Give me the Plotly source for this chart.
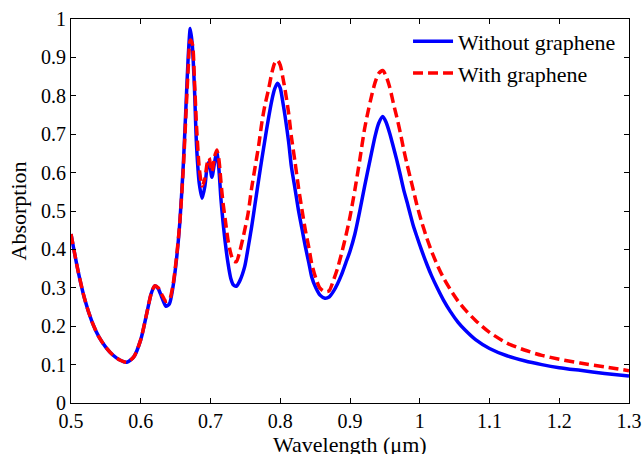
import plotly.graph_objects as go

wavelength = [0.500, 0.510, 0.520, 0.530, 0.540, 0.550, 0.560, 0.570, 0.580, 0.590,
              0.600, 0.610, 0.615, 0.620, 0.625, 0.630, 0.636, 0.641, 0.646, 0.651,
              0.656, 0.661, 0.665, 0.668, 0.671, 0.674, 0.677, 0.680, 0.684, 0.688,
              0.692, 0.695, 0.698, 0.702, 0.706, 0.709, 0.712, 0.715, 0.718, 0.721,
              0.725, 0.729, 0.733, 0.737, 0.742, 0.749, 0.754, 0.759, 0.764, 0.769,
              0.774, 0.778, 0.783, 0.788, 0.792, 0.796, 0.800, 0.804, 0.807, 0.812,
              0.816, 0.821, 0.826, 0.831, 0.836, 0.841, 0.845, 0.851, 0.857, 0.864,
              0.870, 0.876, 0.882, 0.888, 0.894, 0.900, 0.907, 0.914, 0.921, 0.929,
              0.936, 0.941, 0.947, 0.952, 0.957, 0.962, 0.967, 0.972, 0.977, 0.982,
              0.986, 0.991, 0.996, 1.003, 1.010, 1.017, 1.025, 1.034, 1.044, 1.055,
              1.065, 1.080, 1.100, 1.125, 1.150, 1.175, 1.200, 1.230, 1.265, 1.300]

without_graphene = [0.440, 0.345, 0.268, 0.212, 0.172, 0.145, 0.125, 0.112, 0.106, 0.120,
                    0.165, 0.245, 0.285, 0.305, 0.298, 0.276, 0.252, 0.258, 0.300, 0.370,
                    0.470, 0.620, 0.780, 0.900, 0.975, 0.930, 0.820, 0.670, 0.570, 0.533,
                    0.565, 0.612, 0.628, 0.588, 0.628, 0.654, 0.610, 0.530, 0.470, 0.420,
                    0.365, 0.325, 0.307, 0.304, 0.318, 0.355, 0.405, 0.459, 0.520, 0.581,
                    0.640, 0.685, 0.740, 0.789, 0.818, 0.833, 0.820, 0.780, 0.746, 0.680,
                    0.615, 0.560, 0.503, 0.455, 0.407, 0.365, 0.329, 0.300, 0.281, 0.273,
                    0.276, 0.290, 0.310, 0.335, 0.365, 0.395, 0.440, 0.500, 0.565, 0.635,
                    0.695, 0.728, 0.746, 0.730, 0.702, 0.668, 0.633, 0.595, 0.555, 0.522,
                    0.494, 0.460, 0.433, 0.396, 0.362, 0.331, 0.300, 0.268, 0.238, 0.210,
                    0.190, 0.165, 0.142, 0.123, 0.110, 0.100, 0.092, 0.085, 0.077, 0.070]

with_graphene = [0.440, 0.345, 0.268, 0.212, 0.172, 0.145, 0.125, 0.112, 0.106, 0.120,
                 0.165, 0.245, 0.285, 0.305, 0.300, 0.283, 0.265, 0.268, 0.305, 0.375,
                 0.470, 0.610, 0.760, 0.870, 0.945, 0.935, 0.840, 0.720, 0.610, 0.565,
                 0.585, 0.622, 0.638, 0.602, 0.642, 0.659, 0.635, 0.575, 0.520, 0.480,
                 0.425, 0.390, 0.370, 0.368, 0.395, 0.450, 0.495, 0.560, 0.615, 0.670,
                 0.735, 0.775, 0.815, 0.860, 0.885, 0.893, 0.880, 0.845, 0.815, 0.755,
                 0.693, 0.630, 0.563, 0.505, 0.450, 0.405, 0.364, 0.325, 0.299, 0.290,
                 0.292, 0.318, 0.350, 0.390, 0.435, 0.485, 0.555, 0.633, 0.715, 0.785,
                 0.835, 0.858, 0.866, 0.850, 0.822, 0.782, 0.745, 0.705, 0.660, 0.620,
                 0.590, 0.553, 0.515, 0.470, 0.430, 0.395, 0.360, 0.326, 0.295, 0.265,
                 0.243, 0.215, 0.184, 0.156, 0.138, 0.124, 0.114, 0.104, 0.094, 0.084]

x_tickvals = [0.5, 0.6, 0.7, 0.8, 0.9, 1.0, 1.1, 1.2, 1.3]
x_ticktext = ["0.5", "0.6", "0.7", "0.8", "0.9", "1", "1.1", "1.2", "1.3"]
y_tickvals = [0, 0.1, 0.2, 0.3, 0.4, 0.5, 0.6, 0.7, 0.8, 0.9, 1.0]
y_ticktext = ["0", "0.1", "0.2", "0.3", "0.4", "0.5", "0.6", "0.7", "0.8", "0.9", "1"]
x_title = "Wavelength (μm)"
y_title = "Absorption"

FONT = "Liberation Serif, Times New Roman, serif"

fig = go.Figure()
fig.add_trace(go.Scatter(x=wavelength, y=without_graphene, mode="lines",
                         name="Without graphene",
                         line=dict(color="#0000ff", width=3.5, shape="spline", smoothing=0.7)))
fig.add_trace(go.Scatter(x=wavelength, y=with_graphene, mode="lines",
                         name="With graphene",
                         line=dict(color="#ff0000", width=3.5, dash="10px,5px",
                                   shape="spline", smoothing=0.7)))

axis_common = dict(showline=True, linecolor="black", linewidth=1, mirror="ticks",
                   ticks="inside", ticklen=5, tickcolor="black", showgrid=False,
                   zeroline=False, automargin=False,
                   tickfont=dict(family=FONT, size=20, color="black"))

fig.update_layout(
    width=643, height=454,
    margin=dict(l=71, r=14, t=19, b=51),
    paper_bgcolor="white", plot_bgcolor="white",
    font=dict(family=FONT, color="black"),
    xaxis=dict(range=[0.5, 1.3], tickvals=x_tickvals, ticktext=x_ticktext, **axis_common),
    yaxis=dict(range=[0, 1], tickvals=y_tickvals, ticktext=y_ticktext,
               title=dict(text=y_title, font=dict(family=FONT, size=22), standoff=8),
               **axis_common),
    legend=dict(x=0.604, y=0.996, xanchor="left", yanchor="top",
                bgcolor="rgba(0,0,0,0)", font=dict(family=FONT, size=22, color="black"),
                tracegroupgap=0, itemwidth=40),
    showlegend=True,
    annotations=[dict(text=x_title, xref="paper", yref="paper", x=0.5, y=-0.109,
                      xanchor="center", yanchor="middle", showarrow=False,
                      font=dict(family=FONT, size=22, color="black"))],
)

# remove the page's default 8px body margin and scrollbars so the figure fills the window
fig.write_html("out.html",
               config={"displayModeBar": False},
               post_script="document.body.style.margin='0';document.body.style.overflow='hidden';")
